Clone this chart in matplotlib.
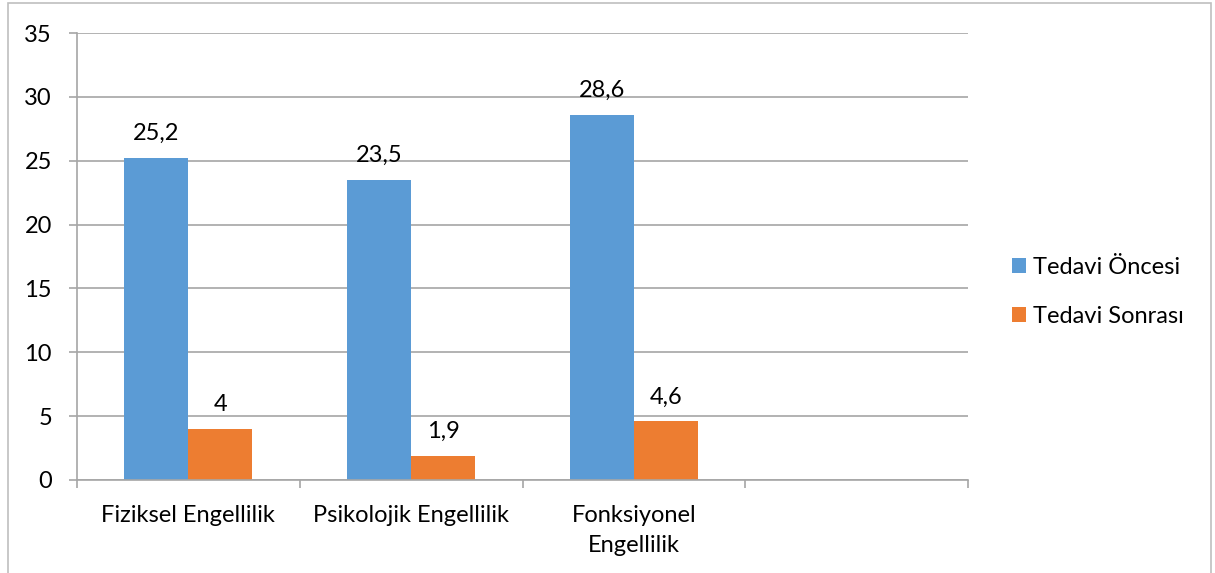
import matplotlib.pyplot as plt
import numpy as np
from matplotlib.patches import Rectangle

plt.rcParams['font.family'] = ['Lato', 'DejaVu Sans']

# data
categories = ["Fiziksel Engellilik", "Psikolojik Engellilik", "Fonksiyonel\nEngellilik", ""]
once = [25.2, 23.5, 28.6]
sonra = [4, 1.9, 4.6]
series_names = ["Tedavi Öncesi", "Tedavi Sonrası"]

blue = '#5B9BD5'
orange = '#ED7D31'
grid_col = '#A6A6A6'
fs = 17

fig = plt.figure(figsize=(12.15, 5.73), dpi=100)
ax = fig.add_axes([77/1215, 93/573, 891/1215, 447/573])

centers = np.arange(len(once)) + 0.5
w = 0.2875
b1 = ax.bar(centers - w/2, once, w, color=blue, label=series_names[0])
b2 = ax.bar(centers + w/2, sonra, w, color=orange, label=series_names[1])

def fmt(v):
    return f"{v:g}".replace(".", ",")

for bars, vals in [(b1, once), (b2, sonra)]:
    for rect, v in zip(bars, vals):
        ax.annotate(fmt(v), (rect.get_x() + rect.get_width()/2, v),
                    xytext=(0, 10), textcoords='offset points',
                    ha='center', va='bottom', fontsize=fs)

ax.set_xlim(0, len(categories))
ax.set_ylim(0, 35)
ax.set_yticks(np.arange(0, 36, 5))
ax.yaxis.grid(True, color=grid_col, linewidth=1.2)
ax.set_axisbelow(True)

# boundaries as major ticks, labels on minor ticks at centers
ax.set_xticks(np.arange(len(categories) + 1))
ax.set_xticklabels([])
ax.set_xticks(np.arange(len(categories)) + 0.5, minor=True)
ax.set_xticklabels(categories, minor=True, fontsize=fs, multialignment='center',
                   linespacing=1.55)
ax.tick_params(axis='x', which='major', length=6, color=grid_col, width=1.2)
ax.tick_params(axis='x', which='minor', length=0, pad=18)
ax.tick_params(axis='y', length=6, color=grid_col, width=1.2, pad=12, labelsize=fs)

for s in ['top', 'right']:
    ax.spines[s].set_visible(False)
for s in ['left', 'bottom']:
    ax.spines[s].set_color(grid_col)
    ax.spines[s].set_linewidth(1.2)

fig.legend(handles=[b1, b2], loc='center left', bbox_to_anchor=(1000/1215, 1 - 292/573),
           frameon=False, fontsize=fs, handlelength=0.6, handleheight=0.6,
           handletextpad=0.3, labelspacing=1.2, borderpad=0)

# outer chart border
fig.patches.append(Rectangle((8/1215, -0.01), 1203/1215, 1 - 3/573 + 0.01,
                             transform=fig.transFigure, fill=False,
                             edgecolor='#BFBFBF', linewidth=1.2))

plt.savefig("out.png", dpi=100)
